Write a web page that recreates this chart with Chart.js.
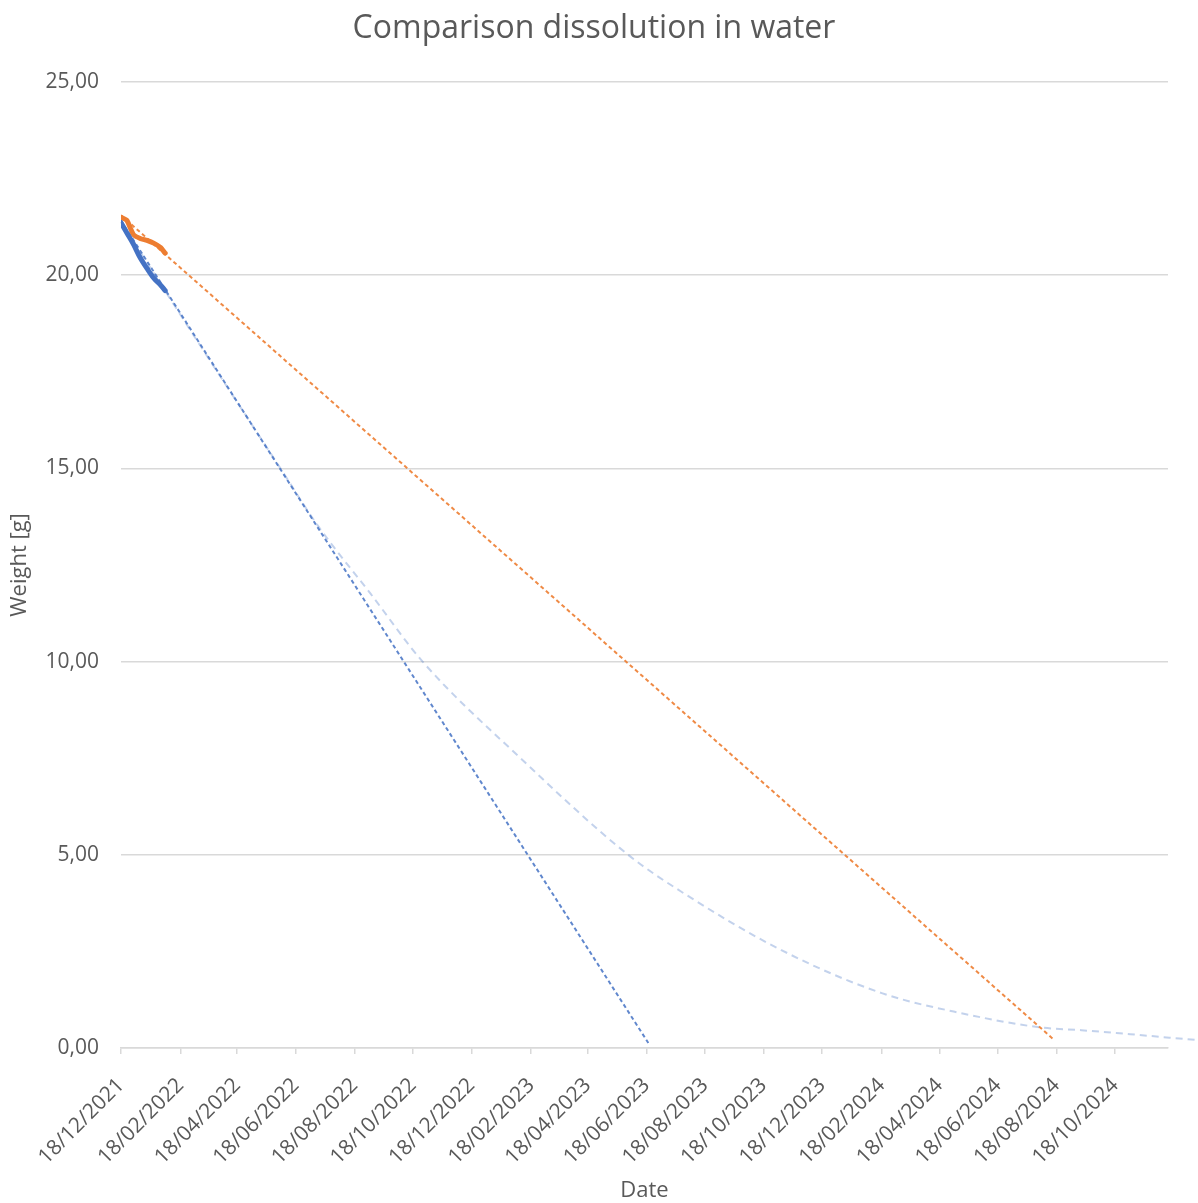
<!DOCTYPE html>
<html>
<head>
<meta charset="utf-8">
<title>Comparison dissolution in water</title>
<script src="https://cdn.jsdelivr.net/npm/chart.js@4.4.1/dist/chart.umd.min.js"></script>
<style>
  html, body { margin: 0; padding: 0; background: #ffffff; }
  #wrap { width: 1198px; height: 1203px; position: relative; }
</style>
</head>
<body>
<div id="wrap"><canvas id="chart"></canvas></div>
<script>
// Weighing dates and measured weights [g]
const sampleDates = ['2021-12-18', '2021-12-24', '2021-12-31', '2022-01-07', '2022-01-14', '2022-01-21', '2022-01-28', '2022-02-02'];
const sampleBlue   = [21.36, 21.10, 20.80, 20.45, 20.18, 19.93, 19.75, 19.60];
const sampleOrange = [21.50, 21.42, 21.05, 20.95, 20.90, 20.83, 20.72, 20.57];

// Linear trends (start and forecast end)
const blueLinearDates    = ['2021-12-18', '2023-06-20'];
const blueLinearValues   = [21.41, 0.13];
const orangeLinearDates  = ['2021-12-18', '2024-08-15'];
const orangeLinearValues = [21.55, 0.22];

// Curved trend of the blue sample, read along its course
const blueCurveDates  = ['2021-12-18', '2022-03-10', '2022-06-02', '2022-07-10', '2022-09-04', '2022-10-28', '2023-02-07', '2023-05-30', '2023-07-24', '2023-11-05', '2024-02-18', '2024-05-11', '2024-08-02', '2024-09-13', '2025-01-14'];
const blueCurveValues = [21.38, 18.20, 15.00, 13.55, 11.75, 10.00, 7.50, 5.00, 4.05, 2.54, 1.42, 0.90, 0.53, 0.46, 0.20];

// Date axis tick labels and range
const xTickLabels = ['18/12/2021', '18/02/2022', '18/04/2022', '18/06/2022', '18/08/2022', '18/10/2022', '18/12/2022', '18/02/2023', '18/04/2023', '18/06/2023', '18/08/2023', '18/10/2023', '18/12/2023', '18/02/2024', '18/04/2024', '18/06/2024', '18/08/2024', '18/10/2024'];
const xAxisStart = '2021-12-18';
const xAxisEnd = '2024-12-12';

const dayOfIso = s => { const [y, m, d] = s.split('-').map(Number); return Date.UTC(y, m - 1, d) / 864e5; };
const dayOfLabel = s => { const [d, m, y] = s.split('/').map(Number); return Date.UTC(y, m - 1, d) / 864e5; };
const toPoints = (dates, values) => dates.map((d, i) => ({ x: dayOfIso(d), y: values[i] }));
const xTickValues = xTickLabels.map(dayOfLabel);

const FONT = "'Open Sans', 'Noto Sans', sans-serif";
const TEXT = '#595959';
const GRID = '#d9d9d9';
const BLUE = '#4472c4';
const ORANGE = '#ed7d31';

new Chart(document.getElementById('chart'), {
  type: 'line',
  data: {
    datasets: [
      { label: 'Blue', data: toPoints(sampleDates, sampleBlue), borderColor: BLUE, borderWidth: 5,
        pointRadius: 0, cubicInterpolationMode: 'monotone', borderCapStyle: 'round', borderJoinStyle: 'round' },
      { label: 'Orange', data: toPoints(sampleDates, sampleOrange), borderColor: ORANGE, borderWidth: 5,
        pointRadius: 0, tension: 0.2, borderCapStyle: 'round', borderJoinStyle: 'round' },
      { label: 'Blue linear trend', data: toPoints(blueLinearDates, blueLinearValues), borderColor: 'rgba(68,114,196,0.85)',
        borderWidth: 2, borderDash: [4, 3], pointRadius: 0 },
      { label: 'Orange linear trend', data: toPoints(orangeLinearDates, orangeLinearValues), borderColor: 'rgba(237,125,49,0.9)',
        borderWidth: 2, borderDash: [4, 3], pointRadius: 0 },
      { label: 'Blue curve trend', data: toPoints(blueCurveDates, blueCurveValues), borderColor: 'rgba(68,114,196,0.32)',
        borderWidth: 2, borderDash: [7, 5], pointRadius: 0, cubicInterpolationMode: 'monotone', clip: false }
    ]
  },
  options: {
    responsive: true,
    maintainAspectRatio: false,
    animation: false,
    layout: { padding: { top: 0, left: 20, right: 30, bottom: 0 } },
    plugins: {
      legend: { display: false },
      tooltip: { enabled: false },
      title: {
        display: true,
        text: 'Comparison dissolution in water',
        color: TEXT,
        font: { family: FONT, size: 32, weight: 'normal' },
        padding: { top: 10, bottom: 33.6 }
      }
    },
    scales: {
      x: {
        type: 'linear',
        min: dayOfIso(xAxisStart),
        max: dayOfIso(xAxisEnd),
        afterBuildTicks: scale => { scale.ticks = xTickValues.map(v => ({ value: v })); },
        afterFit: scale => { scale.height = 155; },
        ticks: {
          autoSkip: false,
          maxRotation: 45,
          minRotation: 45,
          padding: 19,
          color: TEXT,
          font: { family: FONT, size: 21 },
          callback: (v, i) => xTickLabels[i]
        },
        grid: { drawOnChartArea: false, drawTicks: true, tickLength: 6, color: GRID, lineWidth: 1.5 },
        border: { display: true, color: GRID, width: 1.5 },
        title: {
          display: true, text: 'Date', color: TEXT,
          font: { family: FONT, size: 22 }, padding: { top: 0, bottom: -1 }
        }
      },
      y: {
        min: 0,
        max: 25,
        afterFit: scale => { scale.width = 101; },
        ticks: {
          stepSize: 5,
          padding: 22,
          color: TEXT,
          font: { family: FONT, size: 21 },
          callback: v => v.toFixed(2).replace('.', ',')
        },
        grid: { color: GRID, lineWidth: 1.5, drawTicks: false },
        border: { display: false },
        title: {
          display: true, text: 'Weight [g]', color: TEXT,
          font: { family: FONT, size: 22 }, padding: { top: -13, bottom: 0 }
        }
      }
    }
  }
});
</script>
</body>
</html>
